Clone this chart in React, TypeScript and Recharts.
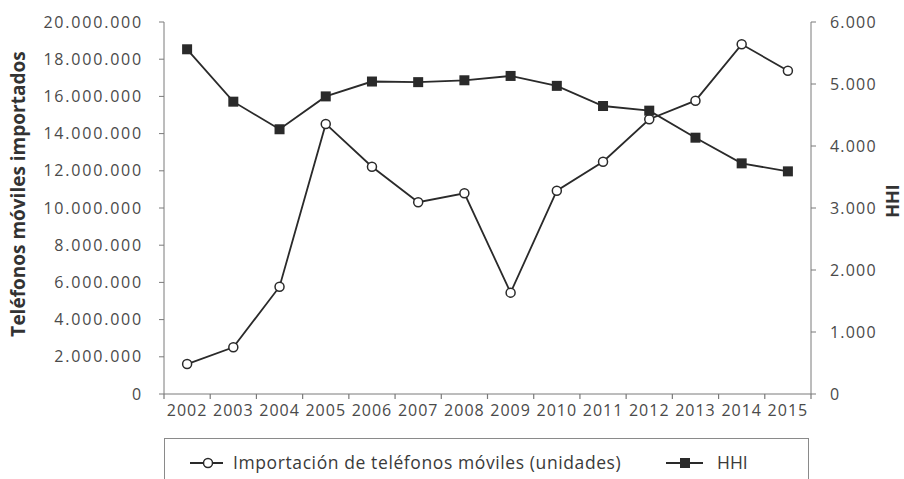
import React from 'react';
import {
    LineChart,
    Line,
    XAxis,
    YAxis,
    Legend
} from 'recharts';

const years = ['2002', '2003', '2004', '2005', '2006', '2007', '2008', '2009', '2010', '2011', '2012', '2013', '2014', '2015'];
const importaciones = [1610000, 2510000, 5770000, 14520000, 12220000, 10310000, 10790000, 5450000, 10930000, 12490000, 14770000, 15770000, 18800000, 17380000];
const hhi = [5560, 4715, 4270, 4800, 5040, 5030, 5060, 5130, 4970, 4645, 4570, 4134, 3720, 3591];
const leftTicks = [0, 2000000, 4000000, 6000000, 8000000, 10000000, 12000000, 14000000, 16000000, 18000000, 20000000];
const rightTicks = [0, 1000, 2000, 3000, 4000, 5000, 6000];

const chartData = years.map((y, i) => ({
    year: y,
    imp: importaciones[i],
    hhi: hhi[i]
}));

const FONT = '"Open Sans", sans-serif';
const TXT = '#4a4a4a';
const AXIS = '#7a7a7a';
const LINE = '#2a2a2a';

const fmt = (v: number) => String(v).replace(/\B(?=(\d{3})+(?!\d))/g, '.');

const HALF_BAND = (811 - 164) / years.length / 2;

const YearTick = (props: any) => {
    const { x, y, payload, index } = props;
    return (
        <g>
            <line x1={x - HALF_BAND} x2={x - HALF_BAND} y1={y - 8} y2={y - 3} stroke={AXIS} strokeWidth={1.2} />
            {index === years.length - 1 && (
                <line x1={x + HALF_BAND} x2={x + HALF_BAND} y1={y - 8} y2={y - 3} stroke={AXIS} strokeWidth={1.2} />
            )}
            <text x={x} y={y + 14} textAnchor="middle" fill={TXT} fontSize={16} fontFamily={FONT} letterSpacing={1}>
                {payload.value}
            </text>
        </g>
    );
};

const SquareDot = (props: any) => {
    const { cx, cy } = props;
    if (cx == null || cy == null) return null;
    return <rect x={cx - 5} y={cy - 5} width={10} height={10} fill={LINE} />;
};

const LegendBox = () => (
    <div style={{
        border: '1.5px solid #8a8a8a',
        height: 52,
        boxSizing: 'border-box',
        position: 'relative',
        fontFamily: FONT,
        fontSize: 17.5,
        color: '#3a3a3a'
    }}>
        <svg width={645} height={50} style={{ position: 'absolute', left: 0, top: 0 }}>
            <line x1={25} x2={58} y1={24} y2={24} stroke={LINE} strokeWidth={1.8} />
            <circle cx={43} cy={24} r={4.5} fill="#fff" stroke={LINE} strokeWidth={1.5} />
            <line x1={501} x2={538} y1={24} y2={24} stroke={LINE} strokeWidth={1.8} />
            <rect x={515} y={19} width={10} height={10} fill={LINE} />
        </svg>
        <span style={{ position: 'absolute', left: 68, top: 11, letterSpacing: 0.6 }}>
            Importación de teléfonos móviles (unidades)
        </span>
        <span style={{ position: 'absolute', left: 552, top: 11 }}>HHI</span>
    </div>
);

const App = () => {
    return (
        <div style={{ position: 'absolute', left: 0, top: 0, background: '#fff' }}>
            <LineChart
                width={904}
                height={479}
                data={chartData}
                margin={{ top: 22, right: 0, bottom: 55, left: 0 }}
            >
                <XAxis
                    dataKey="year"
                    height={30}
                    padding={{ left: HALF_BAND, right: HALF_BAND }}
                    stroke={AXIS}
                    tickLine={false}
                    tick={<YearTick />}
                    interval={0}
                />
                <YAxis
                    yAxisId="left"
                    width={164}
                    domain={[0, 20000000]}
                    ticks={leftTicks}
                    tickFormatter={fmt}
                    stroke={AXIS}
                    tickSize={5}
                    tickMargin={16}
                    tick={{ fill: TXT, fontSize: 16, fontFamily: FONT, letterSpacing: 1.8 }}
                    label={() => (
                        <text
                            x={18}
                            y={194}
                            transform="rotate(-90 18 194)"
                            textAnchor="middle"
                            dominantBaseline="central"
                            fontFamily={FONT}
                            fontWeight="bold"
                            fontSize={19}
                            fill="#333"
                        >
                            Teléfonos móviles importados
                        </text>
                    )}
                />
                <YAxis
                    yAxisId="right"
                    orientation="right"
                    width={93}
                    domain={[0, 6000]}
                    ticks={rightTicks}
                    tickFormatter={fmt}
                    stroke={AXIS}
                    tickSize={5}
                    tickMargin={14}
                    tick={{ fill: TXT, fontSize: 16, fontFamily: FONT, letterSpacing: 1.2, textAnchor: 'start' }}
                    label={() => (
                        <text
                            x={892}
                            y={201}
                            transform="rotate(-90 892 201)"
                            textAnchor="middle"
                            dominantBaseline="central"
                            fontFamily={FONT}
                            fontWeight="bold"
                            fontSize={18}
                            fill="#333"
                        >
                            HHI
                        </text>
                    )}
                />
                <Legend
                    layout="horizontal"
                    verticalAlign="middle"
                    align="center"
                    content={<LegendBox />}
                    wrapperStyle={{ top: 438, left: 164, width: 645 }}
                />
                <Line
                    yAxisId="left"
                    type="linear"
                    dataKey="imp"
                    stroke={LINE}
                    strokeWidth={1.8}
                    dot={{ r: 4.5, fill: '#fff', stroke: LINE, strokeWidth: 1.5 }}
                    activeDot={false}
                    isAnimationActive={false}
                />
                <Line
                    yAxisId="right"
                    type="linear"
                    dataKey="hhi"
                    stroke={LINE}
                    strokeWidth={1.8}
                    dot={<SquareDot />}
                    activeDot={false}
                    isAnimationActive={false}
                />
            </LineChart>
        </div>
    );
};

export default App;
